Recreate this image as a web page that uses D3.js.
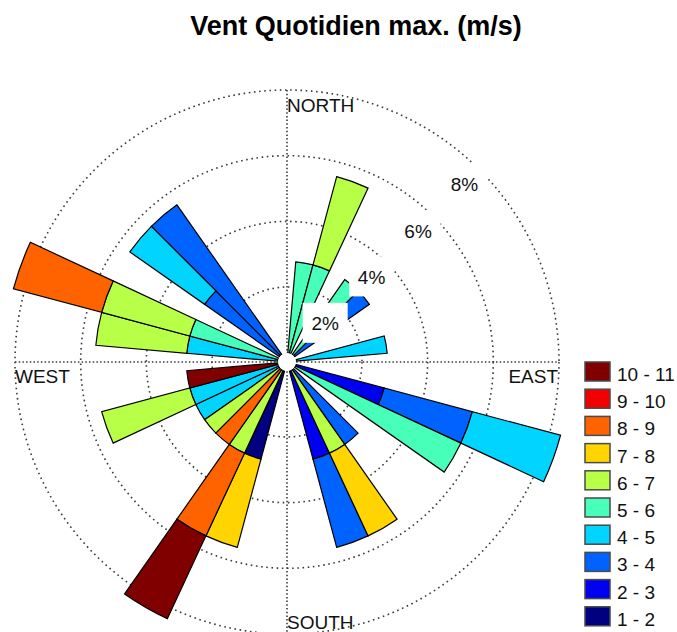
<!DOCTYPE html>
<html>
<head>
<meta charset="utf-8">
<script src="https://cdn.jsdelivr.net/npm/d3@7"></script>
<style>
  html, body { margin: 0; padding: 0; background: #fff; }
  svg text { font-family: "Liberation Sans", Arial, Helvetica, sans-serif; fill: #111; }
</style>
</head>
<body>
<svg id="chart" width="677" height="632"></svg>
<script>
// Wind direction sectors (degrees, clockwise from north), 10° wide
const directions = [0, 10, 20, 30, 40, 50, 60, 70, 80, 90, 100, 110,
                    120, 130, 140, 150, 160, 170, 180, 190, 200, 210, 220, 230,
                    240, 250, 260, 270, 280, 290, 300, 310, 320, 330, 340, 350];

// Speed classes (m/s), from calm to strong
const speedClasses = ["1 - 2", "2 - 3", "3 - 4", "4 - 5", "5 - 6",
                      "6 - 7", "7 - 8", "8 - 9", "9 - 10", "10 - 11"];

// Jet-like colour ramp, one colour per speed class
const classColors = ["#000080", "#0000F0", "#0063FF", "#00D4FF", "#47FFB8",
                     "#B8FF47", "#FFD400", "#FF6300", "#F00000", "#800000"];

// Frequency (%) of each speed class in each direction sector
const freq_1_2 = [0,0,0,0,0,0,0,0,0,0,0,0,
                  0,0,0,0,0,0,0,0,2.78,0,0,0,
                  0,0,0,0,0,0,0,0,0,0,0,0];
const freq_2_3 = [0,0,0,0,0,0,0,0,0,0,0,2.78,
                  0,0,0,0,2.78,0,0,0,0,0,0,0,
                  0,0,0,0,0,0,0,0,0,0,0,0];
const freq_3_4 = [0,0,0,0,0,2.78,0,0,0,0,0,2.78,
                  0,0,2.78,0,2.78,0,0,0,0,0,0,0,
                  0,0,0,0,0,0,0,2.78,5.56,0,0,0];
const freq_4_5 = [0,0,0,0,0,0,0,0,2.78,0,0,2.78,
                  0,0,0,0,0,0,0,0,0,0,0,0,
                  2.78,2.78,0,0,2.78,0,0,2.78,0,0,0,0];
const freq_5_6 = [0,2.78,2.78,0,2.78,0,0,0,0,0,0,0,
                  5.56,0,0,0,0,0,0,0,0,0,0,0,
                  0,0,0,0,0,2.78,0,0,0,0,0,0];
const freq_6_7 = [0,0,2.78,0,0,0,0,0,0,0,0,0,
                  0,0,0,2.78,0,0,0,0,0,2.78,0,2.78,
                  0,2.78,0,0,2.78,2.78,0,0,0,0,0,0];
const freq_7_8 = [0,0,0,0,0,0,0,0,0,0,0,0,
                  0,0,0,2.78,0,0,0,0,2.78,0,0,0,
                  0,0,0,0,0,0,0,0,0,0,0,0];
const freq_8_9 = [0,0,0,0,0,0,0,0,0,0,0,0,
                  0,0,0,0,0,0,0,0,0,2.78,2.78,0,
                  0,0,0,0,0,2.78,0,0,0,0,0,0];
const freq_9_10 = [0,0,0,0,0,0,0,0,0,0,0,0,
                   0,0,0,0,0,0,0,0,0,0,0,0,
                   0,0,0,0,0,0,0,0,0,0,0,0];
const freq_10_11 = [0,0,0,0,0,0,0,0,0,0,0,0,
                    0,0,0,0,0,0,0,0,0,2.78,0,0,
                    0,0,2.78,0,0,0,0,0,0,0,0,0];

const seriesByClass = [freq_1_2, freq_2_3, freq_3_4, freq_4_5, freq_5_6,
                       freq_6_7, freq_7_8, freq_8_9, freq_9_10, freq_10_11];

// Percentage rings and compass labels
const ringTicks = [2, 4, 6, 8];
const ringLabels = ["2%", "4%", "6%", "8%"];
const compassLabels = ["NORTH", "EAST", "SOUTH", "WEST"];
const titleText = "Vent Quotidien max. (m/s)";

// ---------------------------------------------------------------------------
const svg = d3.select("#chart");
const cx = 287, cy = 362;
const sectorWidth = 10;

const r = d3.scaleLinear().domain([0, 8]).range([9.3, 272]);
const toRad = d => d * Math.PI / 180;

// Table: one row per direction, one column per speed class
const table = directions.map((dir, i) => {
  const row = { dir };
  speedClasses.forEach((c, k) => { row[c] = seriesByClass[k][i]; });
  return row;
});
const stacked = d3.stack().keys(speedClasses)(table);
const color = d3.scaleOrdinal().domain(speedClasses).range(classColors);

svg.append("rect").attr("width", 677).attr("height", 632).attr("fill", "#fff");

// Title
svg.append("text")
  .attr("x", 356).attr("y", 35)
  .attr("text-anchor", "middle")
  .attr("font-size", 27).attr("font-weight", "bold")
  .style("fill", "#000")
  .text(titleText);

const g = svg.append("g").attr("transform", `translate(${cx},${cy})`);

// Dotted grid: rings and cross axes
const rMax = r(8);
g.selectAll("circle.ring").data(ringTicks).join("circle")
  .attr("class", "ring")
  .attr("r", d => r(d))
  .attr("fill", "none")
  .attr("stroke", "#3a3a3a")
  .attr("stroke-width", 1.6)
  .attr("stroke-dasharray", "1.6,3.6");

g.append("line").attr("x1", -rMax).attr("x2", rMax).attr("y1", 0).attr("y2", 0)
  .attr("stroke", "#3a3a3a").attr("stroke-width", 1.6).attr("stroke-dasharray", "1.5,2.2");
g.append("line").attr("y1", -rMax).attr("y2", rMax).attr("x1", 0).attr("x2", 0)
  .attr("stroke", "#3a3a3a").attr("stroke-width", 1.6).attr("stroke-dasharray", "1.5,2.2");

// Stacked wedges
const arc = d3.arc()
  .innerRadius(d => r(d[0]))
  .outerRadius(d => r(d[1]))
  .startAngle(d => toRad(d.data.dir - sectorWidth / 2))
  .endAngle(d => toRad(d.data.dir + sectorWidth / 2));

g.selectAll("g.layer").data(stacked).join("g")
  .attr("class", "layer")
  .attr("fill", d => color(d.key))
  .selectAll("path")
  .data(d => d.filter(s => s[1] - s[0] > 0))
  .join("path")
  .attr("d", arc)
  .attr("stroke", "#000")
  .attr("stroke-width", 1.2)
  .attr("stroke-linejoin", "miter");

// Calm centre
g.append("circle").attr("r", 9).attr("fill", "#fff");

// Ring value labels on white boxes along the NE diagonal
const ringLabelG = g.selectAll("g.rlab").data(ringTicks).join("g")
  .attr("class", "rlab")
  .attr("transform", d => {
    const rr = r(d) - 21;
    return `translate(${rr * Math.sin(toRad(45))},${-rr * Math.cos(toRad(45))})`;
  });
ringLabelG.append("rect")
  .attr("x", -22.5).attr("y", -21).attr("width", 45).attr("height", 40)
  .attr("fill", "#fff");
ringLabelG.append("text")
  .attr("text-anchor", "middle")
  .attr("dy", "0.35em")
  .attr("font-size", 19)
  .text((d, i) => ringLabels[i]);

// Compass labels
g.append("text").attr("x", 0).attr("y", -rMax + 22).attr("font-size", 19)
  .text(compassLabels[0]);
g.append("text").attr("x", rMax - 1).attr("y", 21).attr("font-size", 19)
  .attr("text-anchor", "end").text(compassLabels[1]);
g.append("text").attr("x", 0).attr("y", rMax - 5).attr("font-size", 19)
  .text(compassLabels[2]);
g.append("text").attr("x", -rMax).attr("y", 21).attr("font-size", 19)
  .text(compassLabels[3]);

// Legend, strongest class on top
const legend = svg.append("g").attr("transform", "translate(585,362)");
const legendOrder = speedClasses.slice().reverse();
const item = legend.selectAll("g").data(legendOrder).join("g")
  .attr("transform", (d, i) => `translate(0,${i * 27.2})`);
item.append("rect")
  .attr("width", 25).attr("height", 19)
  .attr("fill", d => color(d))
  .attr("stroke", "#4a4a4a").attr("stroke-width", 1.5);
item.append("text")
  .attr("x", 32).attr("y", 19)
  .attr("font-size", 19)
  .text(d => d);
</script>
</body>
</html>
